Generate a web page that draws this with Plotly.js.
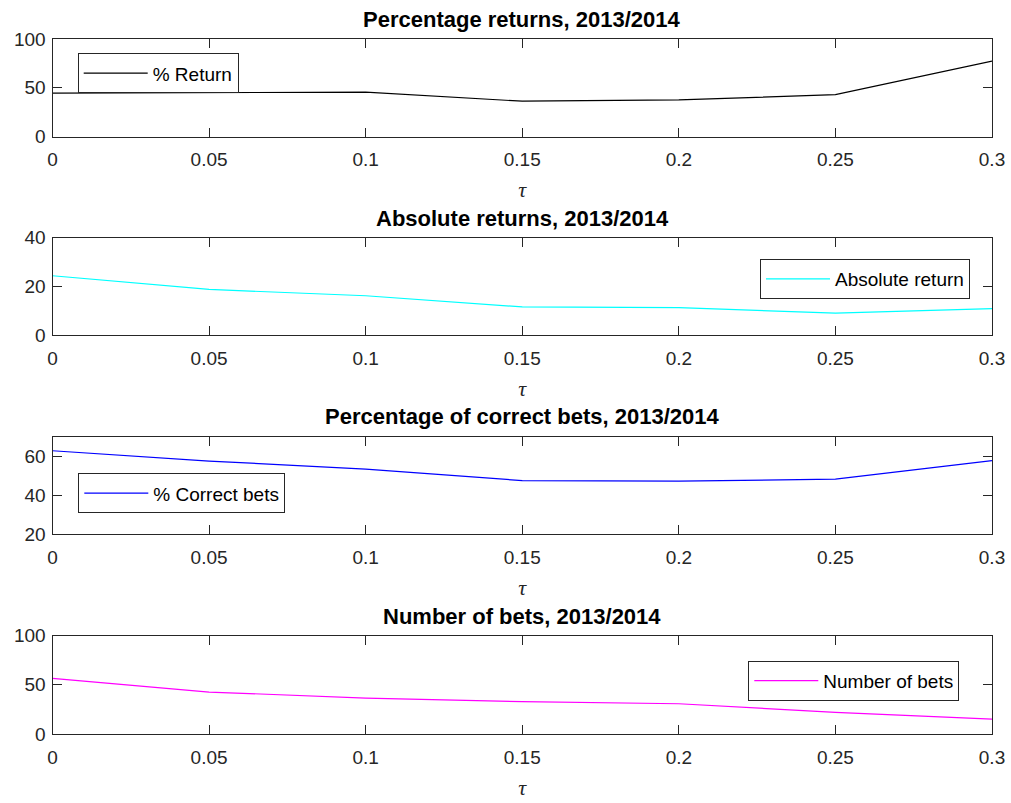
<!DOCTYPE html>
<html>
<head>
<meta charset="utf-8">
<script src="https://cdn.plot.ly/plotly-3.0.1.min.js"></script>
<style>html,body{margin:0;padding:0;background:#fff;}#chart{width:1011px;height:803px;}</style>
</head>
<body>
<div id="chart"></div>
<script>
// ---- data ----
const tau = [0, 0.05, 0.1, 0.15, 0.2, 0.25, 0.3];
const tauTickText = ["0", "0.05", "0.1", "0.15", "0.2", "0.25", "0.3"];
const pctReturn = [44.5, 45.3, 45.5, 36.2, 37.5, 43.0, 77.3];
const absReturn = [24.3, 18.7, 16.1, 11.5, 11.2, 9.0, 10.8];
const pctCorrect = [62.7, 57.4, 53.3, 47.4, 47.1, 48.1, 57.6];
const numBets = [56.4, 42.6, 36.5, 32.8, 30.7, 22.0, 15.2];

const titles = [
  "Percentage returns, 2013/2014",
  "Absolute returns, 2013/2014",
  "Percentage of correct bets, 2013/2014",
  "Number of bets, 2013/2014"
];
const seriesNames = ["% Return", "Absolute return", "% Correct bets", "Number of bets"];
const yRanges = [[0, 100], [0, 40], [20, 70], [0, 100]];
const yTicks = [[0, 50, 100], [0, 20, 40], [20, 40, 60], [0, 50, 100]];
const colors = ["#000000", "#00FFFF", "#0000FF", "#FF00FF"];
const seriesData = [pctReturn, absReturn, pctCorrect, numBets];

// ---- layout geometry (pixels in 1011x803) ----
const W = 1011, H = 803;
const xLeft = 52.5, xRight = 992;
const rows = [[39, 136.5], [237.5, 335], [436.5, 534], [635.5, 734]];
const legendPos = [
  {x: 77.7, y: 53.3, xanchor: "left"},
  {x: 970, y: 259, xanchor: "right"},
  {x: 78.3, y: 473.3, xanchor: "left"},
  {x: 959.3, y: 660.7, xanchor: "right"}
];

const axisColor = "#262626";
const sans = "Liberation Sans, Arial, sans-serif";

const traces = [];
const layout = {
  width: W, height: H,
  margin: {l: 0, r: 0, t: 0, b: 0},
  paper_bgcolor: "#ffffff",
  plot_bgcolor: "#ffffff",
  showlegend: true,
  annotations: []
};

for (let i = 0; i < 4; i++) {
  const n = i === 0 ? "" : String(i + 1);
  traces.push({
    x: tau, y: seriesData[i],
    type: "scatter", mode: "lines",
    name: seriesNames[i],
    line: {color: colors[i], width: 1.2},
    xaxis: "x" + n, yaxis: "y" + n,
    legend: "legend" + n
  });
  const common = {
    showline: true, linecolor: axisColor, linewidth: 1,
    mirror: "ticks", ticks: "inside", ticklen: 9, tickwidth: 1, tickcolor: axisColor,
    showgrid: false, zeroline: false, fixedrange: true,
    tickfont: {family: sans, size: 19, color: axisColor}
  };
  layout["xaxis" + n] = Object.assign({}, common, {
    domain: [xLeft / W, xRight / W],
    anchor: "y" + n,
    range: [0, 0.3],
    tickmode: "array", tickvals: tau, ticktext: tauTickText,
    ticklabelstandoff: 6,
    title: {text: "<i>τ</i>", font: {family: "Liberation Serif, Times New Roman, serif", size: 22, color: axisColor}, standoff: 12}
  });
  layout["yaxis" + n] = Object.assign({}, common, {
    domain: [1 - rows[i][1] / H, 1 - rows[i][0] / H],
    anchor: "x" + n,
    range: yRanges[i],
    tickmode: "array", tickvals: yTicks[i],
    ticklabelstandoff: 2
  });
  layout["legend" + n] = {
    x: legendPos[i].x / W, y: 1 - legendPos[i].y / H,
    xref: "paper", yref: "paper",
    xanchor: legendPos[i].xanchor, yanchor: "top",
    bgcolor: "#ffffff", bordercolor: axisColor, borderwidth: 1,
    font: {family: sans, size: 19, color: "#000000"},
    itemwidth: 64
  };
  layout.annotations.push({
    text: "<b>" + titles[i] + "</b>",
    xref: "x" + n + " domain", yref: "y" + n + " domain",
    x: 0.5, y: 1, xanchor: "center", yanchor: "bottom",
    yshift: 5, showarrow: false,
    font: {family: sans, size: 22, color: "#000000"}
  });
}

Plotly.newPlot("chart", traces, layout, {staticPlot: true, displayModeBar: false});
</script>
</body>
</html>
